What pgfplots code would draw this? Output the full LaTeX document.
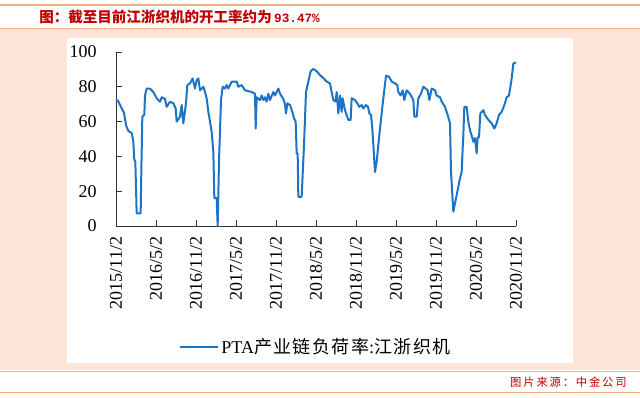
\documentclass[border=0pt]{standalone}
\usepackage{pgfplots}
\pgfplotsset{compat=1.18}
\usepackage{fontspec}
\setmainfont{Liberation Serif}
\newfontfamily\cjk{Noto Sans CJK SC}
\newfontfamily\cjksp[LetterSpace=16]{Noto Sans CJK SC}
\newfontfamily\cjkleg[LetterSpace=8]{Noto Sans CJK SC}
\newfontfamily\monof{Liberation Mono}
\definecolor{peach}{RGB}{252,228,214}
\definecolor{lineor}{RGB}{244,177,131}
\definecolor{titred}{RGB}{192,0,0}
\definecolor{plotblue}{RGB}{30,116,196}

\pgfplotstableread{
m v
0 72.4
0.3 72
0.86 67.6
1.2 65
1.5 58
1.85 54.6
2.36 53.4
2.6 48.4
2.75 38
2.9 37
3.1 7.3
3.7 7.3
3.8 32
3.95 62.8
4.25 64
4.35 75
4.6 79
5.1 79
5.6 77
6.1 73.4
6.6 71.4
6.85 74
7.35 73
7.6 68.5
8.1 71.4
8.6 70.5
8.95 67.6
9.1 60
9.6 62.8
9.85 69.5
10.1 59
10.5 70.6
10.7 81
11.1 82
11.5 84.8
11.85 79
12.1 83.8
12.35 84.8
12.6 78
13.1 80
13.35 77
13.6 73.4
13.85 65.7
14.1 60
14.35 54
14.6 42.7
14.75 16
15.1 16
15.25 0
15.45 37
15.75 72.4
16.0 80
16.35 79
16.6 81
16.85 79
17.35 82.9
18.1 83
18.35 80
18.85 81
19.35 78
20.35 77
20.85 76
20.95 56
21.1 74
21.6 72.4
21.85 75
22.1 72.4
22.35 74
22.6 71.5
22.85 76
23.1 72.4
23.6 77
23.85 75
24.35 79
24.6 76
25.1 73
25.35 70
25.5 64.7
25.7 70.5
26.1 69.5
26.45 65.6
26.7 61.8
26.95 60
27.1 41.7
27.25 41.7
27.35 16.8
27.85 16.8
28.2 46.5
28.5 77
28.85 83
29.2 89
29.6 90.2
30.1 89
30.6 86.7
31.1 85
31.6 83
32.1 82
32.35 77
32.6 72.4
32.95 71.5
33.1 77
33.35 64.7
33.6 75
33.85 65.6
34.0 73.4
34.35 66.5
34.85 61
35.2 61
35.35 73.4
35.85 72.4
36.2 70.5
36.5 68.5
36.85 69.5
37.1 67.6
37.5 69.5
37.8 68.5
38.0 64.7
38.25 63.8
38.45 56
38.85 31
39.1 37
39.6 56
40.1 73.4
40.5 86.3
40.95 85.8
41.35 83
41.85 82
42.2 81
42.35 77
42.7 75
43.0 78
43.25 72.4
43.6 78
44.1 76
44.6 72.4
44.75 62.8
45.1 62.8
45.35 73.4
45.75 76
46.1 80
46.45 79
46.75 78
47.0 72.4
47.35 79
47.85 78
48.1 75
48.6 74
48.85 71.5
49.35 68.5
49.75 63.8
50.1 59
50.25 31
50.6 8.2
51.1 17.8
51.6 27.4
51.85 31
52.0 44.6
52.1 52
52.25 68.5
52.6 68.5
52.85 60
53.1 55
53.35 52
53.6 48.4
53.85 50.5
54.1 41.7
54.25 51
54.45 51
54.65 64.7
55.1 66.6
55.35 63.8
55.85 61
56.35 59
56.75 56
57.1 59
57.45 63.8
57.85 65.6
58.25 69.5
58.6 74
58.95 75
59.2 81
59.35 84.8
59.6 93.4
60.0 94
}\datatable

\begin{document}
\begin{tikzpicture}
\fill[white] (0,0) rectangle (480pt,297.75pt);
\fill[peach] (0,20.25pt) rectangle (480pt,276.4pt);
\fill[white] (50.25pt,25.5pt) rectangle (429.75pt,269.25pt);
\draw[lineor,line width=1.2pt] (0,294pt) -- (480pt,294pt);
\draw[lineor,line width=1.2pt] (0,276.4pt) -- (480pt,276.4pt);
\draw[lineor,line width=1pt] (0,19.1pt) -- (480pt,19.1pt);
\draw[lineor,line width=1pt] (0,3.4pt) -- (480pt,3.4pt);
\node[anchor=west,inner sep=0,text=titred] at (29.25pt,285pt) {\fontsize{10.9}{12}\selectfont\cjk\bfseries 图：截至目前江浙织机的开工率约为\,{\monof\bfseries\fontsize{9.5}{11}\selectfont 93.47\%}};
\node[anchor=east,inner sep=0,text=titred] at (470.25pt,11.25pt) {\fontsize{8.5}{10}\selectfont\cjksp 图片来源：中金公司};
\begin{axis}[
  at={(87pt,128.25pt)}, anchor=south west,
  scale only axis, width=300pt, height=130.5pt,
  xmin=0, xmax=60, ymin=0, ymax=100,
  axis x line*=bottom, axis y line*=left,
  axis line style={-, black!80, line width=0.6pt},
  tick align=inside, major tick length=4.5pt,
  tick style={black!80, line width=0.6pt},
  xtick={0,6,...,60},
  xticklabels={2015/11/2,2016/5/2,2016/11/2,2017/5/2,2017/11/2,2018/5/2,2018/11/2,2019/5/2,2019/11/2,2020/5/2,2020/11/2},
  ytick={0,20,...,100},
  /pgf/number format/assume math mode=true,
  tick label style={font=\fontsize{13.5}{15}\selectfont},
  xticklabel style={rotate=90, anchor=east},
  xticklabel shift=4.5pt,
  yticklabel shift=11pt,
  legend style={at={(0.5,-0.695)}, anchor=center, draw=none, fill=none, font=\fontsize{13.5}{15}\selectfont},
  legend image code/.code={\draw[#1] (0pt,0pt) -- (28.5pt,0pt);},
  clip=false,
]
\addplot[plotblue, line width=1.5pt, line join=round] table[x=m,y=v] {\datatable};
\addlegendentry{PTA{\cjkleg 产业链负荷率}:{\cjkleg 江浙织机}}
\end{axis}
\pgfresetboundingbox
\path (0,0) rectangle (480pt,297.75pt);
\end{tikzpicture}
\end{document}
